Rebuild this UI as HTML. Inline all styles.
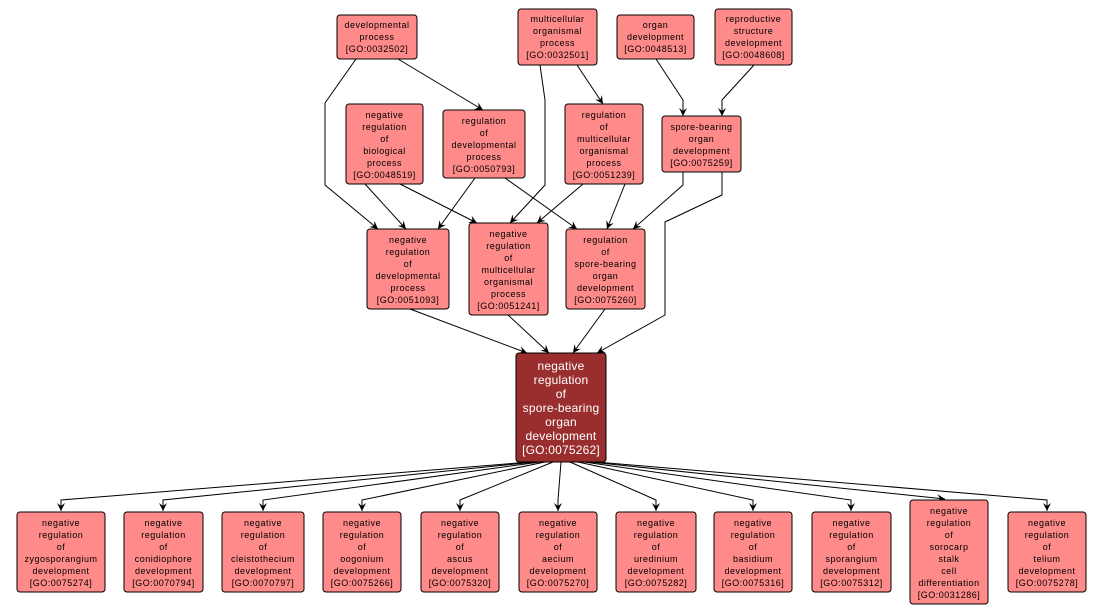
<!DOCTYPE html>
<html><head><meta charset="utf-8"><style>
html,body{margin:0;padding:0;background:#fff;}
svg{display:block;}
text{font-family:"Liberation Sans",sans-serif;font-size:9px;fill:#000;text-anchor:middle;letter-spacing:0.5px;}
.c text{fill:#fff;font-size:12px;letter-spacing:0.2px;}
rect{fill:#ff8a8a;stroke:#000;stroke-width:1;}
.c rect{fill:#9a2e2e;}
path.e{fill:none;stroke:#000;stroke-width:1;}
</style></head><body>
<svg width="1105" height="615" viewBox="0 0 1105 615" xmlns="http://www.w3.org/2000/svg">
<defs><marker id="a" markerWidth="10" markerHeight="10" refX="8" refY="4" orient="auto" markerUnits="userSpaceOnUse"><path d="M0,0 L8,4 L0,8 L3,4 z" fill="#000"/></marker></defs>
<g marker-end="url(#a)">
<path class="e" d="M356,59 L325,103 L325,185 L378,229"/>
<path class="e" d="M398,59 L483,110"/>
<path class="e" d="M365,184 L406,229"/>
<path class="e" d="M475,178 L438,229"/>
<path class="e" d="M400,184 L477,223"/>
<path class="e" d="M505,178 L577,229"/>
<path class="e" d="M540,65 L545,100 L545,185 L510,223"/>
<path class="e" d="M583,184 L537,223"/>
<path class="e" d="M577,65 L603,104"/>
<path class="e" d="M656,59 L683,100 L683,116"/>
<path class="e" d="M754,65 L722,100 L722,116"/>
<path class="e" d="M625,184 L607,229"/>
<path class="e" d="M683,172 L683,185 L633,229"/>
<path class="e" d="M722,172 L722,195 L665,222 L665,315 L597,353"/>
<path class="e" d="M410,309 L527,353"/>
<path class="e" d="M508,315 L549,353"/>
<path class="e" d="M605,309 L573,353"/>
<path class="e" d="M530,462 L61,500 L61,511"/>
<path class="e" d="M535,462 L163,500 L163,511"/>
<path class="e" d="M540,462 L263,500 L263,511"/>
<path class="e" d="M545,462 L362,500 L362,511"/>
<path class="e" d="M553,462 L460,500 L460,511"/>
<path class="e" d="M561,462 L558,500 L558,511"/>
<path class="e" d="M570,462 L656,500 L656,511"/>
<path class="e" d="M578,462 L753,500 L753,511"/>
<path class="e" d="M584,462 L851,500 L851,511"/>
<path class="e" d="M590,462 L945,499"/>
<path class="e" d="M596,462 L1047,500 L1047,511"/>
</g>

<g><rect x="337" y="15" width="80" height="44" rx="3"/><text><tspan x="377" y="28">developmental</tspan><tspan x="377" y="40">process</tspan><tspan x="377" y="52">[GO:0032502]</tspan></text></g>
<g><rect x="518" y="9" width="79" height="56" rx="3"/><text><tspan x="557.5" y="22">multicellular</tspan><tspan x="557.5" y="34">organismal</tspan><tspan x="557.5" y="46">process</tspan><tspan x="557.5" y="58">[GO:0032501]</tspan></text></g>
<g><rect x="617" y="15" width="77" height="44" rx="3"/><text><tspan x="655.5" y="28">organ</tspan><tspan x="655.5" y="40">development</tspan><tspan x="655.5" y="52">[GO:0048513]</tspan></text></g>
<g><rect x="715" y="9" width="77" height="56" rx="3"/><text><tspan x="753.5" y="22">reproductive</tspan><tspan x="753.5" y="34">structure</tspan><tspan x="753.5" y="46">development</tspan><tspan x="753.5" y="58">[GO:0048608]</tspan></text></g>

<g><rect x="346" y="104" width="77" height="80" rx="3"/><text><tspan x="384.5" y="118">negative</tspan><tspan x="384.5" y="130">regulation</tspan><tspan x="384.5" y="142">of</tspan><tspan x="384.5" y="154">biological</tspan><tspan x="384.5" y="166">process</tspan><tspan x="384.5" y="178">[GO:0048519]</tspan></text></g>
<g><rect x="443" y="110" width="82" height="68" rx="3"/><text><tspan x="484" y="124">regulation</tspan><tspan x="484" y="136">of</tspan><tspan x="484" y="148">developmental</tspan><tspan x="484" y="160">process</tspan><tspan x="484" y="172">[GO:0050793]</tspan></text></g>
<g><rect x="565" y="104" width="78" height="80" rx="3"/><text><tspan x="604" y="118">regulation</tspan><tspan x="604" y="130">of</tspan><tspan x="604" y="142">multicellular</tspan><tspan x="604" y="154">organismal</tspan><tspan x="604" y="166">process</tspan><tspan x="604" y="178">[GO:0051239]</tspan></text></g>
<g><rect x="662" y="116" width="79" height="56" rx="3"/><text><tspan x="701.5" y="130">spore-bearing</tspan><tspan x="701.5" y="142">organ</tspan><tspan x="701.5" y="154">development</tspan><tspan x="701.5" y="166">[GO:0075259]</tspan></text></g>

<g><rect x="367" y="229" width="82" height="80" rx="3"/><text><tspan x="408" y="243">negative</tspan><tspan x="408" y="255">regulation</tspan><tspan x="408" y="267">of</tspan><tspan x="408" y="279">developmental</tspan><tspan x="408" y="291">process</tspan><tspan x="408" y="303">[GO:0051093]</tspan></text></g>
<g><rect x="469" y="223" width="79" height="92" rx="3"/><text><tspan x="508.5" y="237">negative</tspan><tspan x="508.5" y="249">regulation</tspan><tspan x="508.5" y="261">of</tspan><tspan x="508.5" y="273">multicellular</tspan><tspan x="508.5" y="285">organismal</tspan><tspan x="508.5" y="297">process</tspan><tspan x="508.5" y="309">[GO:0051241]</tspan></text></g>
<g><rect x="566" y="229" width="79" height="80" rx="3"/><text><tspan x="605.5" y="243">regulation</tspan><tspan x="605.5" y="255">of</tspan><tspan x="605.5" y="267">spore-bearing</tspan><tspan x="605.5" y="279">organ</tspan><tspan x="605.5" y="291">development</tspan><tspan x="605.5" y="303">[GO:0075260]</tspan></text></g>

<g class="c"><rect x="516" y="353" width="90" height="109" rx="3"/><text><tspan x="561" y="370">negative</tspan><tspan x="561" y="384">regulation</tspan><tspan x="561" y="398">of</tspan><tspan x="561" y="412">spore-bearing</tspan><tspan x="561" y="426">organ</tspan><tspan x="561" y="440">development</tspan><tspan x="561" y="454">[GO:0075262]</tspan></text></g>

<g><rect x="17" y="512" width="88" height="80" rx="3"/><text><tspan x="61" y="526">negative</tspan><tspan x="61" y="538">regulation</tspan><tspan x="61" y="550">of</tspan><tspan x="61" y="562">zygosporangium</tspan><tspan x="61" y="574">development</tspan><tspan x="61" y="586">[GO:0075274]</tspan></text></g>
<g><rect x="124" y="512" width="79" height="80" rx="3"/><text><tspan x="163.5" y="526">negative</tspan><tspan x="163.5" y="538">regulation</tspan><tspan x="163.5" y="550">of</tspan><tspan x="163.5" y="562">conidiophore</tspan><tspan x="163.5" y="574">development</tspan><tspan x="163.5" y="586">[GO:0070794]</tspan></text></g>
<g><rect x="222" y="512" width="82" height="80" rx="3"/><text><tspan x="263" y="526">negative</tspan><tspan x="263" y="538">regulation</tspan><tspan x="263" y="550">of</tspan><tspan x="263" y="562">cleistothecium</tspan><tspan x="263" y="574">development</tspan><tspan x="263" y="586">[GO:0070797]</tspan></text></g>
<g><rect x="323" y="512" width="78" height="80" rx="3"/><text><tspan x="362" y="526">negative</tspan><tspan x="362" y="538">regulation</tspan><tspan x="362" y="550">of</tspan><tspan x="362" y="562">oogonium</tspan><tspan x="362" y="574">development</tspan><tspan x="362" y="586">[GO:0075266]</tspan></text></g>
<g><rect x="421" y="512" width="78" height="80" rx="3"/><text><tspan x="460" y="526">negative</tspan><tspan x="460" y="538">regulation</tspan><tspan x="460" y="550">of</tspan><tspan x="460" y="562">ascus</tspan><tspan x="460" y="574">development</tspan><tspan x="460" y="586">[GO:0075320]</tspan></text></g>
<g><rect x="519" y="512" width="78" height="80" rx="3"/><text><tspan x="558" y="526">negative</tspan><tspan x="558" y="538">regulation</tspan><tspan x="558" y="550">of</tspan><tspan x="558" y="562">aecium</tspan><tspan x="558" y="574">development</tspan><tspan x="558" y="586">[GO:0075270]</tspan></text></g>
<g><rect x="616" y="512" width="80" height="80" rx="3"/><text><tspan x="656" y="526">negative</tspan><tspan x="656" y="538">regulation</tspan><tspan x="656" y="550">of</tspan><tspan x="656" y="562">uredinium</tspan><tspan x="656" y="574">development</tspan><tspan x="656" y="586">[GO:0075282]</tspan></text></g>
<g><rect x="714" y="512" width="78" height="80" rx="3"/><text><tspan x="753" y="526">negative</tspan><tspan x="753" y="538">regulation</tspan><tspan x="753" y="550">of</tspan><tspan x="753" y="562">basidium</tspan><tspan x="753" y="574">development</tspan><tspan x="753" y="586">[GO:0075316]</tspan></text></g>
<g><rect x="812" y="512" width="79" height="80" rx="3"/><text><tspan x="851.5" y="526">negative</tspan><tspan x="851.5" y="538">regulation</tspan><tspan x="851.5" y="550">of</tspan><tspan x="851.5" y="562">sporangium</tspan><tspan x="851.5" y="574">development</tspan><tspan x="851.5" y="586">[GO:0075312]</tspan></text></g>
<g><rect x="910" y="500" width="78" height="104" rx="3"/><text><tspan x="949" y="514">negative</tspan><tspan x="949" y="526">regulation</tspan><tspan x="949" y="538">of</tspan><tspan x="949" y="550">sorocarp</tspan><tspan x="949" y="562">stalk</tspan><tspan x="949" y="574">cell</tspan><tspan x="949" y="586">differentiation</tspan><tspan x="949" y="598">[GO:0031286]</tspan></text></g>
<g><rect x="1008" y="512" width="78" height="80" rx="3"/><text><tspan x="1047" y="526">negative</tspan><tspan x="1047" y="538">regulation</tspan><tspan x="1047" y="550">of</tspan><tspan x="1047" y="562">telium</tspan><tspan x="1047" y="574">development</tspan><tspan x="1047" y="586">[GO:0075278]</tspan></text></g>
</svg>
</body></html>
